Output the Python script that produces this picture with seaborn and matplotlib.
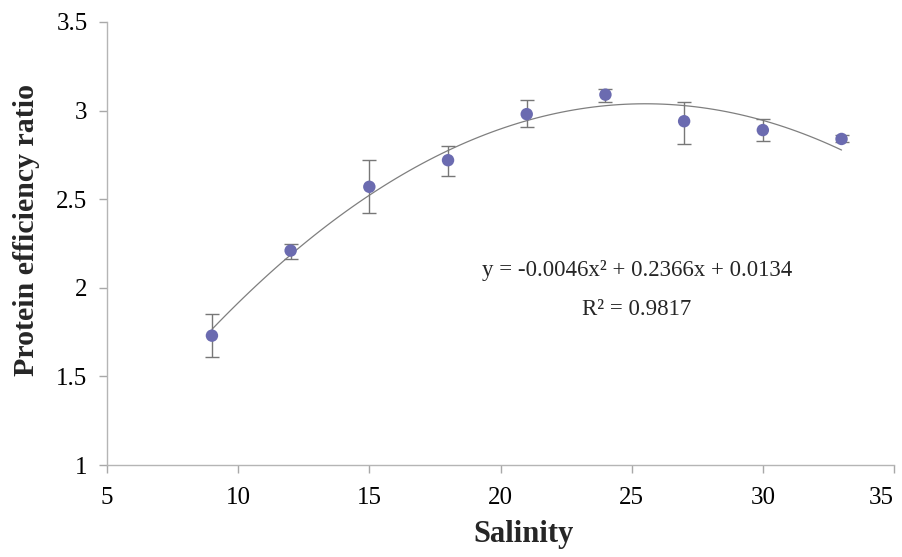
import numpy as np
import pandas as pd
import matplotlib
matplotlib.use('Agg')
import matplotlib.pyplot as plt
import seaborn as sns

# data
salinity = [9, 12, 15, 18, 21, 24, 27, 30, 33]
per_mean = [1.73, 2.21, 2.57, 2.72, 2.98, 3.09, 2.94, 2.89, 2.84]
err_low = [0.12, 0.05, 0.15, 0.09, 0.07, 0.04, 0.13, 0.06, 0.02]
err_high = [0.12, 0.04, 0.15, 0.08, 0.08, 0.03, 0.11, 0.06, 0.02]
equation = 'y = -0.0046x\u00b2 + 0.2366x + 0.0134'
r_squared = 'R\u00b2 = 0.9817'

df = pd.DataFrame({'Salinity': salinity, 'PER': per_mean})

sns.set_style('ticks')
plt.rcParams['font.family'] = ['Liberation Serif', 'DejaVu Serif']

fig = plt.figure(figsize=(9.02, 5.57), dpi=100)
ax = fig.add_axes([107/902, 1-465/557, 787/902, 443/557])

# second order trendline fitted by seaborn
sns.regplot(data=df, x='Salinity', y='PER', order=2, ci=None, scatter=False,
            line_kws={'color': '#7f7f7f', 'lw': 0.9}, ax=ax)

ax.errorbar(salinity, per_mean, yerr=[err_low, err_high], fmt='none',
            ecolor='#777777', elinewidth=1, capsize=5, capthick=1, zorder=3)
sns.scatterplot(data=df, x='Salinity', y='PER', color='#6b6bb0', s=80,
                edgecolor='none', zorder=4, ax=ax)

ax.text(25.2, 2.10, equation, ha='center', va='center', fontsize=16.5)
ax.text(25.2, 1.88, r_squared, ha='center', va='center', fontsize=16.5)

ax.set_xlim(5, 35)
ax.set_ylim(1, 3.5)
ax.set_xticks([5, 10, 15, 20, 25, 30, 35])
ax.set_yticks([1, 1.5, 2, 2.5, 3, 3.5])
ax.set_yticklabels(['1', '1.5', '2', '2.5', '3', '3.5'])
ax.tick_params(labelsize=18, colors='#a8a8a8', labelcolor='black', length=6, width=1)
ax.tick_params(axis='x', pad=10)
ax.tick_params(axis='y', pad=8)
# last x label sits inside the figure like the original
ax.get_xticklabels()[-1].set_horizontalalignment('right')
for s in ['left', 'bottom']:
    ax.spines[s].set_color('#b5b5b5')
    ax.spines[s].set_linewidth(1)
sns.despine(ax=ax)

ax.set_xlabel('Salinity', fontsize=22, fontweight='bold')
ax.set_ylabel('Protein efficiency ratio', fontsize=21.5, fontweight='bold')
ax.xaxis.set_label_coords(0.529, -0.125)
ax.yaxis.set_label_coords(-0.085, 0.53)

fig.savefig('out.png', dpi=100)
